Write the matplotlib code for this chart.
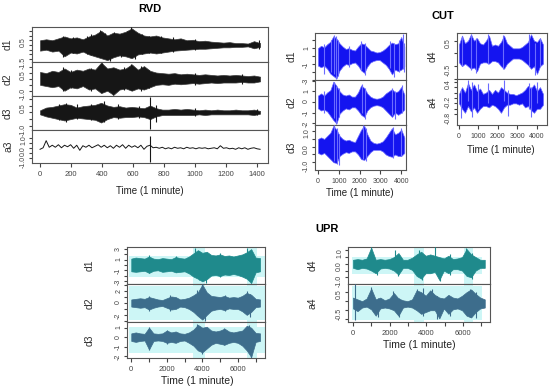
import numpy as np
import matplotlib.pyplot as plt

plt.rcParams['font.family'] = ['Liberation Sans', 'DejaVu Sans']

W, H = 550, 389

# ---------------- RVD (1 minute, one day) ----------------
rvd_d1_hi = [0.5, 0.6, 0.5, 0.7, 0.9, 0.7, 0.8, 0.6, 0.9, 1.1, 1.5, 1.0, 1.3, 1.2, 1.4, 1.75, 1.3, 1.0, 0.9,
             1.0, 0.8, 0.7, 0.6, 0.7, 0.5, 0.55, 0.4, 0.45, 0.35, 0.3, 0.25, 0.3, 0.2, 0.2, 0.15, 0.4, 0.2]
rvd_d1_lo = [-0.6, -0.5, -0.7, -0.6, -1.2, -0.8, -0.9, -0.7, -1.0, -1.2, -1.4, -1.6, -1.3, -1.1, -1.2, -1.4, -1.0,
             -0.9, -0.8, -0.9, -0.8, -0.7, -0.6, -0.55, -0.5, -0.45, -0.4, -0.4, -0.35, -0.3, -0.25, -0.25, -0.2,
             -0.2, -0.15, -0.35, -0.2]
rvd_d2_hi = [0.6, 0.5, 0.7, 0.6, 0.9, 0.6, 0.8, 0.7, 0.9, 0.8, 1.4, 0.9, 1.0, 0.8, 0.9, 1.25, 0.8, 1.1, 0.7,
             0.55, 0.5, 0.45, 0.5, 0.4, 0.45, 0.4, 0.35, 0.4, 0.35, 0.3, 0.35, 0.3, 0.35, 0.3, 0.25, 0.3, 0.2]
rvd_d2_lo = [-0.5, -0.6, -0.7, -0.6, -1.0, -0.7, -0.8, -0.6, -0.9, -0.8, -1.2, -1.0, -1.35, -0.9, -0.8, -1.0,
             -0.8, -0.9, -0.7, -0.5, -0.45, -0.5, -0.4, -0.45, -0.4, -0.35, -0.4, -0.35, -0.3, -0.35, -0.3, -0.3,
             -0.3, -0.25, -0.3, -0.3, -0.2]
rvd_d3_hi = [0.15, 0.35, 0.4, 0.5, 0.6, 0.55, 0.35, 0.45, 0.5, 0.55, 0.7, 0.5, 0.4, 0.45, 0.35, 0.4, 0.35, 0.3,
             0.5, 0.3, 0.2, 0.2, 0.25, 0.2, 0.25, 0.2, 0.15, 0.2, 0.15, 0.2, 0.15, 0.15, 0.2, 0.15, 0.15, 0.2, 0.1]
rvd_d3_lo = [-0.15, -0.3, -0.4, -0.5, -0.6, -0.5, -0.4, -0.45, -0.5, -0.55, -0.75, -0.5, -0.35, -0.4, -0.35,
             -0.35, -0.3, -0.35, -0.5, -0.3, -0.2, -0.2, -0.2, -0.2, -0.2, -0.2, -0.15, -0.2, -0.15, -0.15, -0.15,
             -0.15, -0.15, -0.15, -0.15, -0.2, -0.1]
rvd_a3 = [-0.1, 0.05, 0.75, 0.1, 0.3, 0.1, 0.35, 0.05, 0.3, 0.15, 0.35, 0.0, 0.3, -0.2, 0.25, 0.1, 0.3, 0.05,
          0.2, 0.35, 0.1, 0.3, 0.05, 0.25, 0.0, 0.3, 0.1, 0.35, 0.0, 0.3, 0.1, 0.25, 0.05, 0.3, -0.1, 0.2, 0.3,
          0.05, 0.1, 0.0, 0.1, -0.05, 0.05, -0.05, 0.1, 0.0, 0.05, -0.05, 0.1, 0.0, 0.05, -0.05, 0.05, 0.0, 0.05,
          -0.05, 0.0, 0.05, -0.05, 0.25, 0.0, 0.05, -0.05, 0.0, -0.1, 0.05, -0.05, 0.05, -0.1, 0.0, 0.05, -0.05,
          -0.1]
# spikes: time, top, bottom
rvd_d1_spk_t = [150, 210, 300, 330, 390, 420, 450, 480, 520, 560, 590, 610, 660, 700, 780, 860, 1000, 1410]
rvd_d1_spk_top = [1.0, 0.8, 1.0, 1.2, 1.6, 1.3, 0.9, 1.4, 1.2, 1.5, 1.85, 1.2, 1.2, 1.0, 1.0, 0.8, 0.6, 0.5]
rvd_d1_spk_bot = [-1.3, -0.9, -1.0, -1.1, -1.2, -1.4, -1.65, -1.0, -1.3, -1.1, -1.2, -1.5, -1.0, -0.9, -0.8,
                  -0.7, -0.5, -0.4]
rvd_d2_spk_t = [150, 200, 330, 400, 470, 540, 590, 650, 700, 1000, 1300]
rvd_d2_spk_top = [1.0, 0.8, 0.9, 1.4, 0.8, 1.0, 1.3, 1.1, 0.8, 0.5, 0.4]
rvd_d2_spk_bot = [-1.0, -0.8, -1.0, -1.1, -1.4, -0.9, -0.9, -1.0, -0.8, -0.5, -0.4]
rvd_d3_spk_t = [120, 170, 240, 330, 410, 500, 640, 712, 745, 1000, 1400]
rvd_d3_spk_top = [0.6, 0.7, 0.6, 0.6, 0.8, 0.6, 0.5, 1.15, 0.55, 0.3, 0.25]
rvd_d3_spk_bot = [-0.6, -0.7, -0.5, -0.6, -0.7, -0.5, -0.45, -1.25, -0.7, -0.3, -0.2]
rvd_a3_spk_t = [712]
rvd_a3_spk_top = [1.2]
rvd_a3_spk_bot = [-1.4]

# ---------------- CUT ----------------
cut_d1_hi = [1.0, 1.3, 1.1, 1.5, 1.8, 2.5, 2.2, 1.6, 1.2, 0.9, 1.0, 0.8, 0.7, 1.2, 1.6, 1.5, 1.1, 0.7, 0.6,
             0.45, 0.5, 0.7, 1.0, 1.4, 1.7, 1.5, 1.6, 2.4, 1.2]
cut_d1_lo = [-1.2, -1.4, -1.2, -1.6, -2.2, -2.5, -2.8, -1.8, -1.3, -1.0, -1.1, -0.9, -0.8, -1.2, -1.8, -2.1,
             -1.3, -0.8, -0.6, -0.5, -0.5, -0.8, -1.1, -1.6, -2.3, -1.7, -1.9, -1.7, -1.3]
cut_d2_hi = [0.6, 0.8, 0.6, 0.9, 1.1, 1.9, 1.5, 1.0, 0.7, 0.6, 0.7, 0.5, 0.5, 0.9, 1.55, 1.3, 0.8, 0.5, 0.35,
             0.3, 0.35, 0.5, 0.8, 1.0, 1.2, 0.9, 1.0, 1.4, 0.7]
cut_d2_lo = [-0.6, -0.8, -0.7, -0.9, -1.3, -1.7, -2.0, -1.1, -0.8, -0.6, -0.7, -0.5, -0.5, -0.8, -1.2, -1.4,
             -0.8, -0.5, -0.35, -0.3, -0.35, -0.5, -0.8, -1.1, -1.4, -1.0, -1.2, -1.0, -0.7]
cut_d3_hi = [0.5, 0.6, 0.5, 0.7, 0.9, 1.35, 1.1, 0.7, 0.5, 0.4, 0.45, 0.35, 0.3, 0.7, 1.1, 1.35, 0.8, 0.4, 0.25,
             0.2, 0.25, 0.35, 0.6, 0.9, 1.2, 0.8, 0.9, 1.1, 0.6]
cut_d3_lo = [-0.4, -0.5, -0.4, -0.6, -0.8, -1.0, -1.05, -0.6, -0.45, -0.35, -0.4, -0.3, -0.3, -0.5, -0.8,
             -0.85, -0.6, -0.35, -0.2, -0.2, -0.2, -0.3, -0.5, -0.6, -0.65, -0.5, -0.6, -0.6, -0.4]
cut_d4_hi = [0.35, 0.7, 0.4, 0.5, 0.75, 0.5, 0.6, 0.4, 0.35, 0.5, 0.7, 0.3, 0.35, 0.3, 0.45, 0.7, 0.4, 0.3,
             0.2, 0.2, 0.2, 0.25, 0.35, 0.45, 0.75, 0.5, 0.45, 0.6, 0.35]
cut_d4_lo = [-0.35, -0.5, -0.4, -0.5, -0.6, -0.55, -0.7, -0.4, -0.35, -0.35, -0.4, -0.3, -0.3, -0.35, -0.5,
             -0.6, -0.4, -0.3, -0.2, -0.2, -0.2, -0.25, -0.35, -0.45, -0.6, -0.5, -0.8, -0.5, -0.4]
cut_a4_hi = [-0.05, 0.2, 0.0, 0.35, 0.1, 0.3, 0.05, 0.15, -0.05, 0.0, 0.1, -0.05, 0.1, 0.0, 0.2, 0.1, 0.0,
             -0.05, -0.05, -0.1, -0.05, 0.0, 0.1, 0.25, 0.15, 0.3, 0.05, 0.2, -0.05]
cut_a4_lo = [-0.4, -0.6, -0.75, -0.5, -0.7, -0.55, -0.75, -0.6, -0.5, -0.5, -0.55, -0.45, -0.5, -0.6, -0.75,
             -0.55, -0.45, -0.45, -0.4, -0.4, -0.45, -0.4, -0.55, -0.5, -0.65, -0.75, -0.6, -0.6, -0.45]
cut_d1_spk_t = [300, 620, 760, 860, 980, 1500, 2050, 2250, 3450, 3650, 3900, 4080, 4150]
cut_d1_spk_top = [1.5, 2.0, 2.7, 2.5, 2.0, 1.3, 1.9, 1.7, 1.9, 1.7, 2.0, 2.8, 1.6]
cut_d1_spk_bot = [-2.2, -2.0, -2.3, -2.9, -2.5, -1.4, -1.7, -2.4, -1.5, -2.6, -2.0, -1.6, -2.0]
cut_d2_spk_t = [300, 760, 880, 1000, 2100, 2250, 3550, 3700, 4050]
cut_d2_spk_top = [1.0, 1.9, 1.5, 1.3, 1.7, 1.3, 1.3, 1.0, 1.6]
cut_d2_spk_bot = [-1.0, -1.5, -2.1, -1.4, -1.0, -1.6, -1.2, -1.6, -1.0]
cut_d3_spk_t = [780, 900, 1000, 2150, 2300, 3600, 4000]
cut_d3_spk_top = [1.4, 1.2, 0.8, 1.4, 1.2, 1.3, 1.2]
cut_d3_spk_bot = [-0.9, -1.1, -1.2, -0.8, -0.95, -0.7, -0.6]
cut_d4_spk_t = [150, 600, 900, 1500, 2250, 3600, 3900, 4200]
cut_d4_spk_top = [0.7, 0.75, 0.6, 0.75, 0.72, 0.78, 0.4, 0.6]
cut_d4_spk_bot = [-0.5, -0.65, -0.75, -0.4, -0.6, -0.5, -0.85, -0.5]
cut_a4_spk_t = [100, 450, 650, 1000, 1500, 2300, 2500, 3600, 3700, 4000]
cut_a4_spk_top = [0.1, 0.45, 0.4, 0.3, 0.35, 0.45, 0.1, 0.35, 0.2, 0.4]
cut_a4_spk_bot = [-0.95, -0.3, -0.9, -0.6, -0.4, -0.3, -0.85, -0.6, -0.9, -0.4]

# ---------------- UPR ----------------
upr_d1_hi = [1.2, 1.4, 1.3, 1.2, 1.6, 1.2, 1.1, 1.3, 1.2, 1.1, 1.5, 1.3, 1.2, 1.6, 2.2, 2.8, 2.3, 2.5, 1.9,
             1.8, 2.0, 1.7, 1.8, 1.6, 1.8, 2.0, 2.4, 3.0, 1.4, 1.3]
upr_d1_lo = [-1.2, -1.3, -1.2, -1.1, -1.5, -1.1, -1.0, -1.3, -1.2, -1.1, -1.4, -1.3, -1.2, -1.6, -2.2, -2.6,
             -3.1, -2.7, -2.0, -1.9, -2.1, -1.8, -1.9, -1.7, -1.9, -2.2, -2.6, -3.4, -1.4, -1.2]
upr_d2_hi = [0.6, 0.7, 0.8, 0.7, 1.0, 0.8, 0.6, 0.5, 0.8, 1.1, 1.0, 0.6, 0.7, 0.9, 1.3, 1.8, 3.1, 1.8, 1.2,
             1.1, 1.0, 1.2, 0.9, 1.0, 0.9, 1.2, 1.7, 1.4, 0.7, 0.6]
upr_d2_lo = [-0.6, -0.7, -0.8, -0.7, -1.1, -0.8, -0.6, -0.5, -0.8, -1.1, -1.0, -0.6, -0.7, -1.0, -1.5, -2.2,
             -2.8, -2.0, -1.3, -1.1, -1.0, -1.2, -0.9, -1.0, -1.0, -1.4, -2.0, -1.5, -0.7, -0.6]
upr_d3_hi = [0.4, 0.5, 0.4, 0.35, 1.0, 0.4, 0.35, 0.4, 0.7, 0.5, 0.6, 0.4, 0.35, 0.5, 0.8, 1.3, 1.0, 1.1, 0.7,
             0.6, 0.7, 0.9, 0.6, 0.5, 0.6, 0.7, 1.2, 1.0, 0.45, 0.4]
upr_d3_lo = [-0.4, -0.5, -0.4, -0.35, -1.3, -0.4, -0.35, -0.4, -0.6, -0.5, -0.6, -0.4, -0.35, -0.6, -0.9,
             -1.4, -1.6, -1.2, -0.8, -0.6, -0.7, -0.8, -0.6, -0.5, -0.6, -0.9, -1.4, -2.1, -0.5, -0.4]
upr_d4_hi = [0.3, 0.35, 0.3, 0.4, 1.2, 0.3, 0.35, 0.3, 0.35, 0.5, 0.8, 0.3, 0.3, 0.45, 0.7, 0.9, 0.6, 0.7, 0.6,
             0.5, 0.4, 0.6, 0.35, 0.4, 0.5, 1.1, 0.7, 0.5, 0.3, 0.3]
upr_d4_lo = [-0.3, -0.4, -0.3, -0.35, -0.5, -0.7, -0.35, -0.3, -0.35, -0.5, -0.8, -0.3, -0.3, -0.45, -0.9,
             -1.1, -0.7, -0.7, -0.6, -1.2, -0.5, -0.7, -0.4, -0.4, -0.5, -0.9, -1.0, -0.5, -0.3, -0.3]
upr_a4_hi = [0.2, 0.1, 0.0, 0.15, 0.7, 0.1, 0.2, 0.05, 0.15, 0.45, 0.15, 0.05, 0.0, 0.1, 0.6, 0.5, 0.3, 0.6,
             0.35, 0.2, 0.15, 0.35, 0.2, 0.15, 0.3, 0.5, 0.65, 0.4, 0.2, 0.1]
upr_a4_lo = [-0.4, -0.55, -0.35, -0.3, -0.45, -0.8, -0.4, -0.35, -0.4, -0.5, -0.8, -0.35, -0.3, -0.35, -0.5,
             -0.7, -0.6, -0.5, -0.5, -0.95, -0.4, -0.7, -0.45, -0.4, -0.5, -0.8, -0.9, -0.6, -0.4, -0.35]
upr_d1_spk_t = [1000, 2500, 3600, 3800, 4200, 5000, 6500, 6750]
upr_d1_spk_top = [1.8, 1.7, 3.3, 2.6, 2.2, 2.3, 3.3, 2.5]
upr_d1_spk_bot = [-1.6, -1.4, -2.0, -2.8, -3.4, -2.2, -2.5, -3.5]
upr_d2_spk_t = [1000, 2200, 3700, 4000, 4150, 5300, 6500, 6700]
upr_d2_spk_top = [1.2, 1.3, 2.2, 3.2, 1.9, 1.3, 2.0, 1.5]
upr_d2_spk_bot = [-1.3, -1.3, -2.0, -2.5, -3.0, -1.3, -1.8, -2.3]
upr_d3_spk_t = [1000, 2000, 3700, 4000, 5200, 6600, 6750]
upr_d3_spk_top = [1.1, 0.8, 1.4, 1.0, 1.0, 1.3, 0.9]
upr_d3_spk_bot = [-1.4, -0.7, -1.2, -1.8, -0.8, -1.6, -2.2]
upr_d4_spk_t = [970, 1320, 2300, 2450, 3600, 3750, 4500, 4760, 5300, 6200, 6500]
upr_d4_spk_top = [1.25, 0.3, 1.0, 0.4, 1.0, 0.6, 1.25, 0.4, 0.7, 1.2, 0.8]
upr_d4_spk_bot = [-0.4, -0.8, -0.4, -0.9, -0.8, -1.2, -0.5, -1.3, -0.8, -0.5, -1.1]
upr_a4_spk_t = [100, 1000, 1350, 2200, 2500, 3500, 3800, 4300, 4600, 5300, 6400, 6700]
upr_a4_spk_top = [0.95, 0.8, 0.2, 0.55, 0.2, 0.7, 0.75, 0.7, 0.3, 0.2, 0.7, 0.5]
upr_a4_spk_bot = [-1.05, -0.4, -0.9, -0.3, -0.85, -0.3, -0.8, -0.4, -1.0, -0.8, -0.9, -0.95]
# light cyan shading behind the UPR traces (time ranges)
upr_left_shade = [(3450, 4150), (6500, 7100)]
upr_right_shade = [(3350, 3900), (6050, 6550)]

fig = plt.figure(figsize=(5.5, 3.89), dpi=100)


def px_axes(x0, y0, x1, y1):
    return fig.add_axes([x0 / W, 1 - y1 / H, (x1 - x0) / W, (y1 - y0) / H])


def panel(box, t_end, xlim, hi, lo, color, ylim, yticks, ylabels, name, name_x, edge=None,
          spk=None, line=None, spk_color=None):
    ax = px_axes(*box)
    t = np.linspace(0, t_end, len(hi) if line is None else len(line))
    if line is None:
        ax.fill_between(t, lo, hi, facecolor=color, edgecolor=edge or color, lw=0.5, zorder=3)
    else:
        ax.plot(t, line, color=color, lw=0.7, zorder=3)
    if spk is not None:
        ax.vlines(spk[0], spk[2], spk[1], color=spk_color or edge or color, lw=0.8, zorder=3)
    ax.set_xlim(xlim)
    ax.set_ylim(ylim)
    ax.set_yticks(yticks)
    ax.set_yticklabels(ylabels)
    ax.tick_params(axis='y', labelrotation=90, labelsize=5, length=2.5, pad=1, colors='#444444')
    ax.tick_params(axis='x', bottom=False, labelbottom=False)
    for s in ax.spines.values():
        s.set_color('#555555')
        s.set_linewidth(0.8)
    ax.set_ylabel(name, fontsize=7.5, color='#333333', va='center')
    ax.yaxis.set_label_coords((name_x - box[0]) / (box[2] - box[0]), 0.5)
    return ax


def time_axis(ax, ticks, labels, size=5.5):
    ax.tick_params(axis='x', bottom=True, labelbottom=True, labelsize=size, length=3, pad=3,
                   colors='#444444')
    ax.set_xticks(ticks)
    ax.set_xticklabels(labels)


# RVD
rvd_x = (-52, 1471)
c = '#161616'
panel((32, 27, 268, 62), 1420, rvd_x, rvd_d1_hi, rvd_d1_lo, c, (-1.8, 1.9),
      [-1.5, -1, -0.5, 0, 0.5, 1, 1.5], ['-1.5', '', '', '', '0.5', '', ''], 'd1', 8, edge='#3a3a3a',
      spk=(rvd_d1_spk_t, rvd_d1_spk_top, rvd_d1_spk_bot), spk_color=c)
panel((32, 62, 268, 96), 1420, rvd_x, rvd_d2_hi, rvd_d2_lo, c, (-1.45, 1.45),
      [-1, -0.5, 0, 0.5, 1], ['-1.0', '', '', '0.5', ''], 'd2', 8, edge='#3a3a3a',
      spk=(rvd_d2_spk_t, rvd_d2_spk_top, rvd_d2_spk_bot), spk_color=c)
panel((32, 96, 268, 130), 1420, rvd_x, rvd_d3_hi, rvd_d3_lo, c, (-1.3, 1.2),
      [-1, -0.5, 0, 0.5, 1], ['-1.0', '', '', '0.5', ''], 'd3', 8, edge='#3a3a3a',
      spk=(rvd_d3_spk_t, rvd_d3_spk_top, rvd_d3_spk_bot), spk_color=c)
ax = panel((32, 130, 268, 163), 1420, rvd_x, None, None, c, (-1.45, 1.8),
           [-1, -0.5, 0, 0.5, 1], ['-1.0', '', '0.0', '', '1.0'], 'a3', 8,
           spk=(rvd_a3_spk_t, rvd_a3_spk_top, rvd_a3_spk_bot), line=rvd_a3)
time_axis(ax, range(0, 1401, 200), [str(v) for v in range(0, 1401, 200)])

# CUT
blue, blue_e = '#1414f0', '#6b6bff'
cut_lx = (-144, 4231)
cut_rx = (-103, 4536)
panel((315, 33, 406, 80), 4150, cut_lx, cut_d1_hi, cut_d1_lo, blue, (-3.0, 2.9),
      [-3, -2, -1, 0, 1, 2], ['-3', '', '-1', '', '1', ''], 'd1', 292, edge=blue_e,
      spk=(cut_d1_spk_t, cut_d1_spk_top, cut_d1_spk_bot))
panel((315, 80, 406, 125), 4150, cut_lx, cut_d2_hi, cut_d2_lo, blue, (-2.15, 2.05),
      [-2, -1, 0, 1, 2], ['-2', '-1', '0', '1', ''], 'd2', 292, edge=blue_e,
      spk=(cut_d2_spk_t, cut_d2_spk_top, cut_d2_spk_bot))
ax = panel((315, 125, 406, 170), 4150, cut_lx, cut_d3_hi, cut_d3_lo, blue, (-1.5, 1.4),
           [-1, -0.5, 0, 0.5, 1], ['-1.0', '', '0.0', '', '1.0'], 'd3', 292, edge=blue_e,
           spk=(cut_d3_spk_t, cut_d3_spk_top, cut_d3_spk_bot))
time_axis(ax, range(0, 4001, 1000), [str(v) for v in range(0, 4001, 1000)], size=5)
panel((457, 33, 547, 79), 4330, cut_rx, cut_d4_hi, cut_d4_lo, blue, (-1.0, 0.8),
      [-1, -0.5, 0, 0.5], ['', '-0.5', '', '0.5'], 'd4', 433, edge=blue_e,
      spk=(cut_d4_spk_t, cut_d4_spk_top, cut_d4_spk_bot))
ax = panel((457, 79, 547, 125), 4330, cut_rx, cut_a4_hi, cut_a4_lo, blue, (-1.2, 0.5),
           [-0.8, -0.6, -0.4, -0.2, 0, 0.2, 0.4], ['-0.8', '', '', '-0.2', '', '', '0.4'], 'a4', 433,
           edge=blue_e, spk=(cut_a4_spk_t, cut_a4_spk_top, cut_a4_spk_bot))
time_axis(ax, range(0, 4001, 1000), [str(v) for v in range(0, 4001, 1000)], size=5)

# UPR
teal, slate = '#1f8a8c', '#3d6d8c'
cyan = '#cdf6f6'
upr_lx = (-240, 7528)
upr_rx = (-273, 7486)
upr_ticks = range(0, 7001, 1000)
upr_labels = [str(v) if v % 2000 == 0 else '' for v in upr_ticks]


def shade(ax, t0, t1, y0, y1, spans):
    ax.axvspan(t0, t1, ymin=y0, ymax=y1, color=cyan, lw=0, zorder=1)
    for a, b in spans:
        ax.axvspan(a, b, color=cyan, lw=0, zorder=1)


ax = panel((127, 247, 265, 284), 7250, upr_lx, upr_d1_hi, upr_d1_lo, teal, (-3.6, 3.4),
           [-3, -2, -1, 0, 1, 2, 3], ['-3', '', '-1', '', '1', '', '3'], 'd1', 90,
           spk=(upr_d1_spk_t, upr_d1_spk_top, upr_d1_spk_bot))
shade(ax, -100, 7528, 0.2, 0.75, upr_left_shade)
ax = panel((127, 284, 265, 322), 7250, upr_lx, upr_d2_hi, upr_d2_lo, slate, (-3.2, 3.2),
           [-3, -2, -1, 0, 1, 2, 3], ['', '-2', '', '0', '', '2', ''], 'd2', 90,
           spk=(upr_d2_spk_t, upr_d2_spk_top, upr_d2_spk_bot))
shade(ax, -100, 7528, 0.05, 0.95, upr_left_shade)
ax = panel((127, 322, 265, 358), 7250, upr_lx, upr_d3_hi, upr_d3_lo, slate, (-2.2, 1.6),
           [-2, -1, 0, 1], ['-2', '-1', '0', '1'], 'd3', 90,
           spk=(upr_d3_spk_t, upr_d3_spk_top, upr_d3_spk_bot))
shade(ax, -100, 7528, 0.15, 0.86, upr_left_shade)
time_axis(ax, upr_ticks, upr_labels, size=5.5)

ax = panel((348, 247, 490, 284), 7200, upr_rx, upr_d4_hi, upr_d4_lo, teal, (-1.5, 1.25),
           [-1, -0.5, 0, 0.5, 1], ['-1.0', '', '0.0', '', '1.0'], 'd4', 313,
           spk=(upr_d4_spk_t, upr_d4_spk_top, upr_d4_spk_bot))
shade(ax, -50, 7050, 0.27, 0.73, upr_right_shade)
ax = panel((348, 284, 490, 322), 7200, upr_rx, upr_a4_hi, upr_a4_lo, slate, (-1.15, 0.95),
           [-1, -0.5, 0, 0.5], ['', '-0.5', '', '0.5'], 'a4', 313,
           spk=(upr_a4_spk_t, upr_a4_spk_top, upr_a4_spk_bot))
shade(ax, -50, 7050, 0.05, 0.95, upr_right_shade)
time_axis(ax, upr_ticks, upr_labels, size=5.5)

# titles and axis titles
for x, y, s in [(150, 9, 'RVD'), (443, 16, 'CUT'), (327, 229, 'UPR')]:
    fig.text(x / W, 1 - y / H, s, fontsize=8, fontweight='bold', ha='center', va='center')
for x, y, fs in [(150, 191, 7), (360, 193, 7), (501, 150, 7), (197, 381, 7.5), (419, 345, 7.5)]:
    fig.text(x / W, 1 - y / H, 'Time (1 minute)', fontsize=fs, color='#222222', ha='center', va='center')

fig.savefig('out.png', dpi=100)
